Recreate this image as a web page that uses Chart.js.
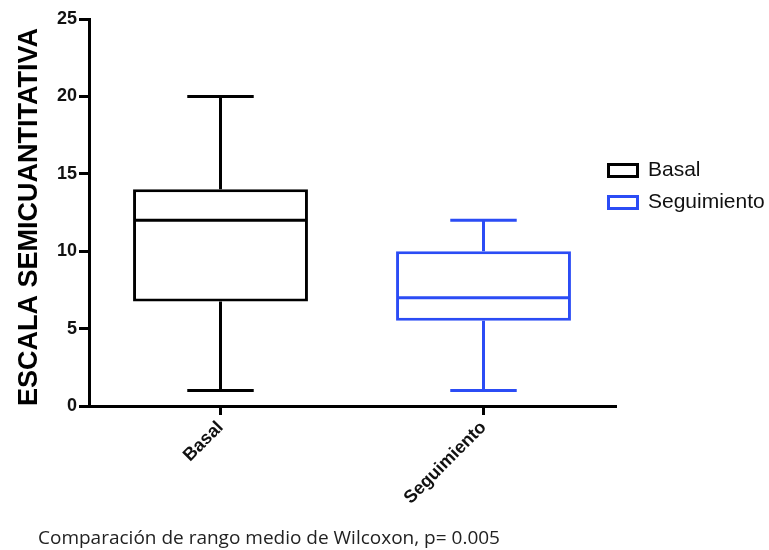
<!DOCTYPE html>
<html>
<head>
<meta charset="utf-8">
<script src="https://cdn.jsdelivr.net/npm/chart.js@4.4.0/dist/chart.umd.min.js"></script>
<style>
  body { margin: 0; background: #fff; }
</style>
</head>
<body>
<canvas id="canvas" width="769" height="550"></canvas>
<script>
// box plot values
var categories = ['Basal', 'Seguimiento'];
var minVals    = [1, 1];
var q1Vals     = [6.75, 5.5];
var medianVals = [12, 7];
var q3Vals     = [14, 10];
var maxVals    = [20, 12];
var seriesColors = ['#000000', '#2b4cf5'];
var footNote = 'Comparación de rango medio de Wilcoxon, p= 0.005';

var font = "'Liberation Sans', Arial, sans-serif";

// one dataset per group so the legend gets one entry each
function boxDataset(i) {
  return {
    label: categories[i],
    data: categories.map((c, j) => j === i ? [q1Vals[i], q3Vals[i]] : null),
    borderColor: seriesColors[i],
    backgroundColor: '#ffffff',
    borderWidth: 3,
    borderSkipped: false,
    grouped: false,
    barPercentage: 0.665,
    categoryPercentage: 1
  };
}

// median line and whiskers, drawn on top of the floating bars
var whiskers = {
  id: 'whiskers',
  afterDatasetsDraw(chart) {
    var ctx = chart.ctx, y = chart.scales.y;
    chart.data.datasets.forEach((ds, i) => {
      chart.getDatasetMeta(i).data.forEach((bar, j) => {
        if (ds.data[j] == null) return;
        var x = bar.x, half = bar.width / 2, cap = bar.width * 0.19;
        var yMin = y.getPixelForValue(minVals[j]);
        var yQ1 = y.getPixelForValue(q1Vals[j]);
        var yMed = y.getPixelForValue(medianVals[j]);
        var yQ3 = y.getPixelForValue(q3Vals[j]);
        var yMax = y.getPixelForValue(maxVals[j]);
        ctx.save();
        ctx.strokeStyle = ds.borderColor;
        ctx.lineWidth = 3;
        ctx.beginPath();
        ctx.moveTo(x - half + 1.5, yMed); ctx.lineTo(x + half - 1.5, yMed);
        ctx.moveTo(x, yQ3); ctx.lineTo(x, yMax);
        ctx.moveTo(x - cap, yMax); ctx.lineTo(x + cap, yMax);
        ctx.moveTo(x, yQ1); ctx.lineTo(x, yMin);
        ctx.moveTo(x - cap, yMin); ctx.lineTo(x + cap, yMin);
        ctx.stroke();
        ctx.restore();
      });
    });
  }
};

// legend sits slightly over the end of the x axis in the original
var legendSpot = {
  id: 'legendSpot',
  afterLayout(chart) {
    chart.legend.left = 597.5;
    chart.legend.top = 149;
  }
};

var footer = {
  id: 'footer',
  afterDraw(chart) {
    var ctx = chart.ctx;
    ctx.save();
    ctx.font = "19px 'Open Sans', sans-serif";
    ctx.fillStyle = '#222';
    ctx.textBaseline = 'middle';
    ctx.fillText(footNote, 38, 539);
    ctx.restore();
  }
};

new Chart(document.getElementById('canvas'), {
  type: 'bar',
  data: {
    labels: categories,
    datasets: categories.map((c, i) => boxDataset(i))
  },
  plugins: [whiskers, legendSpot, footer],
  options: {
    responsive: false,
    animation: false,
    layout: { padding: { top: 19, left: 0, right: 0, bottom: 0 } },
    plugins: {
      tooltip: { enabled: false },
      legend: {
        position: 'right',
        align: 'start',
        maxWidth: 154,
        labels: {
          boxWidth: 29,
          boxHeight: 12,
          padding: 11,
          color: '#111',
          font: { family: font, size: 21 }
        }
      }
    },
    scales: {
      x: {
        afterFit(scale) { scale.height = 144; },
        border: { color: '#000', width: 3 },
        grid: { display: true, offset: false, drawOnChartArea: false, color: '#000', lineWidth: 3, tickLength: 9 },
        ticks: {
          minRotation: 45,
          maxRotation: 45,
          padding: 2,
          color: '#111',
          font: { family: font, size: 18, weight: 'bold' }
        }
      },
      y: {
        min: 0,
        max: 25,
        afterFit(scale) { scale.width = 89; },
        border: { color: '#000', width: 3 },
        grid: { display: true, drawOnChartArea: false, color: '#000', lineWidth: 3, tickLength: 10 },
        ticks: {
          stepSize: 5,
          padding: 2,
          color: '#111',
          font: { family: font, size: 18, weight: 'bold' }
        },
        title: {
          display: true,
          text: 'ESCALA SEMICUANTITATIVA',
          align: 'start',
          color: '#000',
          padding: { top: 13, bottom: 0 },
          font: { family: font, size: 27, weight: 'bold' }
        }
      }
    }
  }
});
</script>
</body>
</html>
